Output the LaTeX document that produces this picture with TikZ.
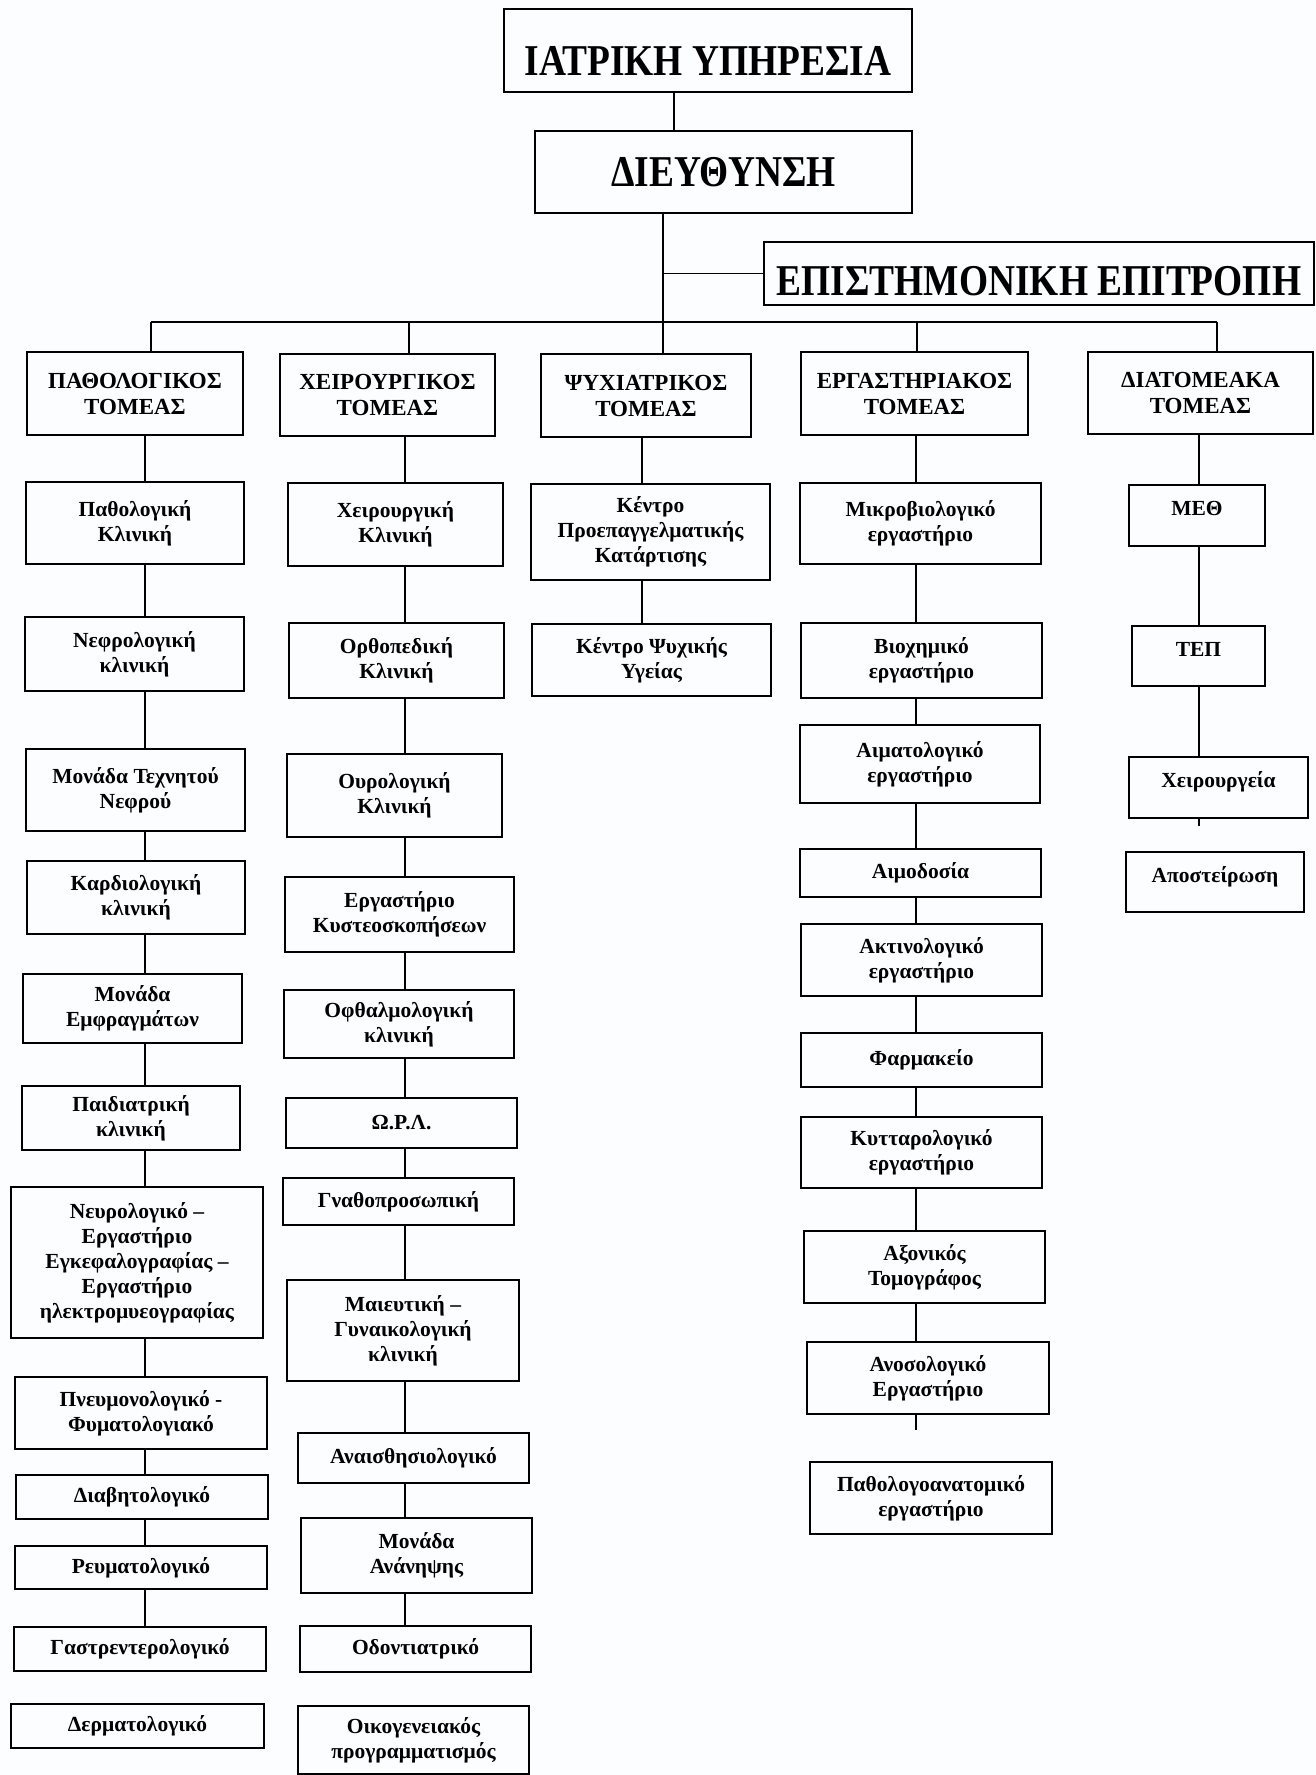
\documentclass[tikz,border=0pt]{standalone}
\usepackage{fontspec}
\setmainfont{Liberation Serif}
\newfontfamily\headfont[FakeStretch=0.85]{Liberation Serif}
\definecolor{paper}{RGB}{251,253,255}

\begin{document}
\begin{tikzpicture}[x=1pt, y=-1pt,
    box/.style={draw, line width=2.2pt, align=center, inner sep=0pt,
                font=\bfseries\fontsize{21.5}{25}\selectfont},
    head/.style={box, font=\headfont\bfseries\fontsize{44}{50}\selectfont},
    sect/.style={box, font=\bfseries\fontsize{23}{26}\selectfont},
    high/.style={text height=15pt, text depth=15pt},
    link/.style={line width=1.8pt}]
        \fill[paper] (0,0) rectangle (1316,1775);
        \useasboundingbox (0,0) rectangle (1316,1775);

        % top of the chart
        \node (t1) [head, minimum width=408, minimum height=83, text height=49pt, text depth=0pt] at (708,50.5) {ΙΑΤΡΙΚΗ ΥΠΗΡΕΣΙΑ};
        \node (t2) [head, minimum width=377, minimum height=82] at (723.5,172) {ΔΙΕΥΘΥΝΣΗ};
        \node (t3) [head, minimum width=550, minimum height=63, text height=43pt, text depth=0pt] at (1039,273.5) {ΕΠΙΣΤΗΜΟΝΙΚΗ ΕΠΙΤΡΟΠΗ};

        % sectors
        \node (s1) [sect, minimum width=216, minimum height=83] at (135,393.5) {ΠΑΘΟΛΟΓΙΚΟΣ\\ΤΟΜΕΑΣ};
        \node (s2) [sect, minimum width=215, minimum height=82] at (387.5,395) {ΧΕΙΡΟΥΡΓΙΚΟΣ\\ΤΟΜΕΑΣ};
        \node (s3) [sect, minimum width=210, minimum height=83] at (646,395.5) {ΨΥΧΙΑΤΡΙΚΟΣ\\ΤΟΜΕΑΣ};
        \node (s4) [sect, minimum width=227, minimum height=83] at (914.5,393.5) {ΕΡΓΑΣΤΗΡΙΑΚΟΣ\\ΤΟΜΕΑΣ};
        \node (s5) [sect, minimum width=225, minimum height=82] at (1200.5,393) {ΔΙΑΤΟΜΕΑΚΑ\\ΤΟΜΕΑΣ};

        % first column
        \node (a1) [box, minimum width=218, minimum height=82] at (135,523) {Παθολογική\\Κλινική};
        \node (a2) [box, minimum width=219, minimum height=74] at (134.5,654) {Νεφρολογική\\κλινική};
        \node (a3) [box, minimum width=219, minimum height=82] at (135.5,790) {Μονάδα Τεχνητού\\Νεφρού};
        \node (a4) [box, minimum width=218, minimum height=73] at (136,897.5) {Καρδιολογική\\κλινική};
        \node (a5) [box, minimum width=219, minimum height=69] at (132.5,1008.5) {Μονάδα\\Εμφραγμάτων};
        \node (a6) [box, minimum width=218, minimum height=64] at (131,1118) {Παιδιατρική\\κλινική};
        \node (a7) [box, minimum width=252, minimum height=151] at (137,1262.5) {Νευρολογικό –\\Εργαστήριο\\Εγκεφαλογραφίας –\\Εργαστήριο\\ηλεκτρομυεογραφίας};
        \node (a8) [box, minimum width=252, minimum height=72] at (141,1413) {Πνευμονολογικό -\\Φυματολογιακό};
        \node (a9) [box, minimum width=252, minimum height=44] at (142,1497) {Διαβητολογικό};
        \node (a10) [box, minimum width=252, minimum height=43] at (141,1567.5) {Ρευματολογικό};
        \node (a11) [box, minimum width=252, minimum height=44] at (140,1649) {Γαστρεντερολογικό};
        \node (a12) [box, minimum width=253, minimum height=44] at (137.5,1726) {Δερματολογικό};

        % second column
        \node (b1) [box, minimum width=215, minimum height=83] at (395.5,524.5) {Χειρουργική\\Κλινική};
        \node (b2) [box, minimum width=215, minimum height=75] at (396.5,660.5) {Ορθοπεδική\\Κλινική};
        \node (b3) [box, minimum width=215, minimum height=83] at (394.5,795.5) {Ουρολογική\\Κλινική};
        \node (b4) [box, minimum width=229, minimum height=75] at (399.5,914.5) {Εργαστήριο\\Κυστεοσκοπήσεων};
        \node (b5) [box, minimum width=230, minimum height=68] at (399,1024) {Οφθαλμολογική\\κλινική};
        \node (b6) [box, minimum width=231, minimum height=50] at (401.5,1123) {Ω.Ρ.Λ.};
        \node (b7) [box, minimum width=231, minimum height=47] at (398.5,1201.5) {Γναθοπροσωπική};
        \node (b8) [box, minimum width=232, minimum height=101] at (403,1330.5) {Μαιευτική –\\Γυναικολογική\\κλινική};
        \node (b9) [box, minimum width=231, minimum height=50] at (413.5,1458) {Αναισθησιολογικό};
        \node (b10) [box, minimum width=231, minimum height=75] at (416.5,1555.5) {Μονάδα\\Ανάνηψης};
        \node (b11) [box, minimum width=231, minimum height=46] at (415.5,1649) {Οδοντιατρικό};
        \node (b12) [box, minimum width=231, minimum height=68] at (413.5,1740) {Οικογενειακός\\προγραμματισμός};

        % third column
        \node (p1) [box, minimum width=239, minimum height=96] at (650.5,532) {Κέντρο\\Προεπαγγελματικής\\Κατάρτισης};
        \node (p2) [box, minimum width=239, minimum height=72] at (651.5,660) {Κέντρο Ψυχικής\\Υγείας};

        % fourth column
        \node (d1) [box, minimum width=241, minimum height=81] at (920.5,523.5) {Μικροβιολογικό\\εργαστήριο};
        \node (d2) [box, minimum width=241, minimum height=75] at (921.5,660.5) {Βιοχημικό\\εργαστήριο};
        \node (d3) [box, minimum width=240, minimum height=78] at (920,764) {Αιματολογικό\\εργαστήριο};
        \node (d4) [box, minimum width=241, minimum height=48] at (920.5,873) {Αιμοδοσία};
        \node (d5) [box, minimum width=241, minimum height=72] at (921.5,960) {Ακτινολογικό\\εργαστήριο};
        \node (d6) [box, minimum width=241, minimum height=54] at (921.5,1060) {Φαρμακείο};
        \node (d7) [box, minimum width=241, minimum height=71] at (921.5,1152.5) {Κυτταρολογικό\\εργαστήριο};
        \node (d8) [box, minimum width=241, minimum height=72] at (924.5,1267) {Αξονικός\\Τομογράφος};
        \node (d9) [box, minimum width=242, minimum height=72] at (928,1378) {Ανοσολογικό\\Εργαστήριο};
        \node (d10) [box, minimum width=242, minimum height=72] at (931,1498) {Παθολογοανατομικό\\εργαστήριο};

        % fifth column
        \node (e1) [box, high, minimum width=136, minimum height=61] at (1197,515.5) {ΜΕΘ};
        \node (e2) [box, high, minimum width=133, minimum height=60] at (1198.5,656) {ΤΕΠ};
        \node (e3) [box, high, minimum width=179, minimum height=61] at (1218.5,787.5) {Χειρουργεία};
        \node (e4) [box, high, minimum width=178, minimum height=60] at (1215,882) {Αποστείρωση};

        % where the lines run
        \coordinate (k) at (674,0);
        \coordinate (j) at (663,322);
        \coordinate (b1x) at (151,322);
        \coordinate (b2x) at (409,322);
        \coordinate (b4x) at (917,322);
        \coordinate (b5x) at (1217,322);
        \coordinate (c1) at (145,0);
        \coordinate (c2) at (405,0);
        \coordinate (c3) at (642,0);
        \coordinate (c4) at (916,0);
        \coordinate (c5) at (1199,0);
        \coordinate (d9end) at (916,1430);
        \coordinate (e3end) at (1199,826);

        \draw[link] (t1.south -| k) -- (t2.north -| k);
        \draw[link] (t2.south -| j) -- (s3.north -| j);
        \draw[link] (t3.west) -- (t3.west -| j);
        \draw[link] (b1x) -- (b5x);
        \draw[link] (b1x) -- (b1x |- s1.north);
        \draw[link] (b2x) -- (b2x |- s2.north);
        \draw[link] (b4x) -- (b4x |- s4.north);
        \draw[link] (b5x) -- (b5x |- s5.north);

        \draw[link] (s1.south -| c1) -- (a1.north -| c1);
        \draw[link] (a1.south -| c1) -- (a2.north -| c1);
        \draw[link] (a2.south -| c1) -- (a3.north -| c1);
        \draw[link] (a3.south -| c1) -- (a4.north -| c1);
        \draw[link] (a4.south -| c1) -- (a5.north -| c1);
        \draw[link] (a5.south -| c1) -- (a6.north -| c1);
        \draw[link] (a6.south -| c1) -- (a7.north -| c1);
        \draw[link] (a7.south -| c1) -- (a8.north -| c1);
        \draw[link] (a8.south -| c1) -- (a9.north -| c1);
        \draw[link] (a9.south -| c1) -- (a10.north -| c1);
        \draw[link] (a10.south -| c1) -- (a11.north -| c1);

        \draw[link] (s2.south -| c2) -- (b1.north -| c2);
        \draw[link] (b1.south -| c2) -- (b2.north -| c2);
        \draw[link] (b2.south -| c2) -- (b3.north -| c2);
        \draw[link] (b3.south -| c2) -- (b4.north -| c2);
        \draw[link] (b4.south -| c2) -- (b5.north -| c2);
        \draw[link] (b5.south -| c2) -- (b6.north -| c2);
        \draw[link] (b6.south -| c2) -- (b7.north -| c2);
        \draw[link] (b7.south -| c2) -- (b8.north -| c2);
        \draw[link] (b8.south -| c2) -- (b9.north -| c2);
        \draw[link] (b9.south -| c2) -- (b10.north -| c2);
        \draw[link] (b10.south -| c2) -- (b11.north -| c2);

        \draw[link] (s3.south -| c3) -- (p1.north -| c3);
        \draw[link] (p1.south -| c3) -- (p2.north -| c3);

        \draw[link] (s4.south -| c4) -- (d1.north -| c4);
        \draw[link] (d1.south -| c4) -- (d2.north -| c4);
        \draw[link] (d2.south -| c4) -- (d3.north -| c4);
        \draw[link] (d3.south -| c4) -- (d4.north -| c4);
        \draw[link] (d4.south -| c4) -- (d5.north -| c4);
        \draw[link] (d5.south -| c4) -- (d6.north -| c4);
        \draw[link] (d6.south -| c4) -- (d7.north -| c4);
        \draw[link] (d7.south -| c4) -- (d8.north -| c4);
        \draw[link] (d8.south -| c4) -- (d9.north -| c4);
        \draw[link] (d9.south -| c4) -- (d9end);

        \draw[link] (s5.south -| c5) -- (e1.north -| c5);
        \draw[link] (e1.south -| c5) -- (e2.north -| c5);
        \draw[link] (e2.south -| c5) -- (e3.north -| c5);
        \draw[link] (e3.south -| c5) -- (e3end);
\end{tikzpicture}
\end{document}
